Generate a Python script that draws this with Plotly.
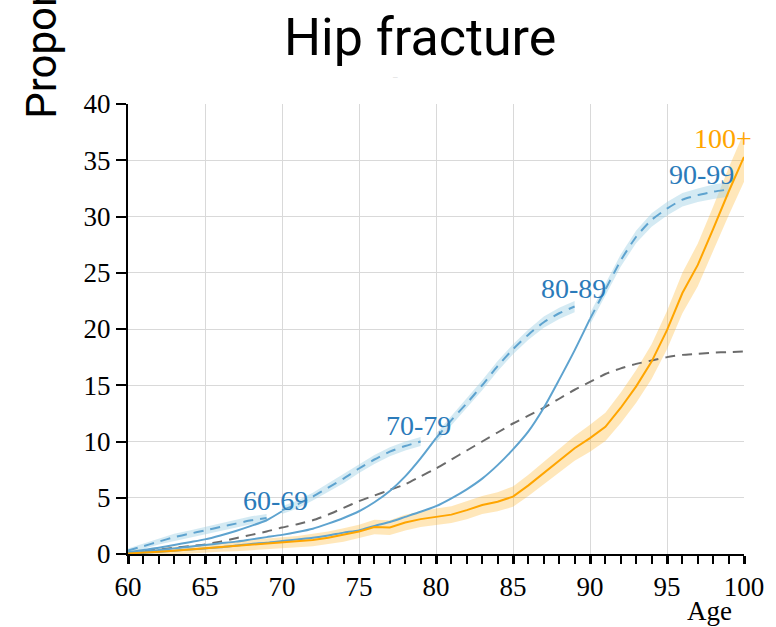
import plotly.graph_objects as go

# ---------------- data ----------------
ages_all = list(range(60, 101))

# cumulative proportion (%) with hip fracture, by age-at-death group
g70_ages = list(range(60, 71))
g70_vals = [0.15, 0.35, 0.55, 0.8, 1.05, 1.3, 1.65, 2.05, 2.5, 3.0, 3.8]

g80_ages = list(range(60, 81))
g80_vals = [0.1, 0.2, 0.35, 0.5, 0.65, 0.8, 0.95, 1.1, 1.3, 1.5, 1.7,
            1.95, 2.25, 2.7, 3.2, 3.8, 4.6, 5.6, 6.9, 8.5, 10.3]

g90_ages = list(range(60, 91))
g90_vals = [0.05, 0.1, 0.2, 0.3, 0.4, 0.5, 0.6, 0.75, 0.9, 1.0, 1.15,
            1.3, 1.45, 1.65, 1.9, 2.1, 2.5, 2.85, 3.3, 3.75, 4.25,
            4.95, 5.75, 6.7, 7.9, 9.3, 10.9, 13.0, 15.5, 18.1, 20.9]

g100_ages = ages_all
g100_vals = [0.05, 0.1, 0.2, 0.3, 0.4, 0.5, 0.6, 0.7, 0.8, 0.9, 1.0,
             1.1, 1.25, 1.45, 1.7, 2.0, 2.4, 2.35, 2.8, 3.1, 3.3,
             3.5, 3.9, 4.35, 4.65, 5.1, 6.1, 7.2, 8.3, 9.4, 10.3,
             11.3, 13.0, 14.9, 17.1, 19.9, 23.2, 25.7, 28.9, 32.2, 35.3]
g100_err = [0.3, 0.3, 0.3, 0.35, 0.35, 0.4, 0.4, 0.45, 0.45, 0.5, 0.5,
            0.5, 0.55, 0.55, 0.6, 0.6, 0.65, 0.65, 0.7, 0.7, 0.75,
            0.75, 0.8, 0.8, 0.85, 0.9, 0.95, 1.0, 1.05, 1.1, 1.2,
            1.25, 1.35, 1.45, 1.55, 1.7, 1.8, 1.9, 2.0, 2.1, 2.2]

# decade-of-death segments (dashed, with bands)
d60_ages = list(range(60, 70))
d60_vals = [0.3, 0.7, 1.1, 1.5, 1.8, 2.1, 2.4, 2.7, 3.0, 3.2]
d60_err = [0.2, 0.25, 0.25, 0.3, 0.3, 0.3, 0.3, 0.35, 0.35, 0.35]

d70_ages = list(range(70, 80))
d70_vals = [3.9, 4.4, 5.1, 5.9, 6.7, 7.6, 8.4, 9.1, 9.6, 10.0]
d70_err = [0.35, 0.35, 0.35, 0.4, 0.4, 0.4, 0.4, 0.4, 0.4, 0.4]

d80_ages = list(range(80, 90))
d80_vals = [10.3, 11.9, 13.4, 15.0, 16.7, 18.2, 19.5, 20.6, 21.4, 22.0]
d80_err = [0.4, 0.4, 0.4, 0.45, 0.45, 0.45, 0.45, 0.5, 0.5, 0.5]

d90_ages = list(range(90, 100))
d90_vals = [20.9, 23.5, 26.1, 28.2, 29.7, 30.7, 31.5, 31.9, 32.2, 32.4]
d90_err = [0.5, 0.5, 0.55, 0.55, 0.6, 0.6, 0.6, 0.6, 0.65, 0.65]

# overall population curve (grey dashed)
pop_vals = [0.1, 0.25, 0.4, 0.55, 0.7, 0.85, 1.1, 1.4, 1.7, 2.0, 2.35,
            2.65, 3.0, 3.5, 4.1, 4.7, 5.2, 5.7, 6.2, 6.9, 7.6,
            8.4, 9.2, 10.0, 10.8, 11.6, 12.3, 13.0, 13.8, 14.6, 15.3,
            16.0, 16.5, 16.9, 17.2, 17.5, 17.7, 17.8, 17.9, 17.95, 18.0]

decade_labels = ["60-69", "70-79", "80-89", "90-99"]
oldest_label = "100+"
title_text = "Hip fracture"
ytitle_text = "Proportion with hip fracture (%)"
xtitle_text = "Age"
x_ticks = [60, 65, 70, 75, 80, 85, 90, 95, 100]
y_ticks = [0, 5, 10, 15, 20, 25, 30, 35, 40]

# ---------------- styles ----------------
BLUE_LINE = "#5ea3cf"
BLUE_BAND = "rgba(160,208,228,0.45)"
BLUE_TEXT = "#2b7bba"
ORANGE = "#ffa500"
ORANGE_BAND = "rgba(255,180,40,0.32)"
GREY = "#6b6b6b"
SERIF = "Liberation Serif"

fig = go.Figure()


def band(xs, ys, errs, color):
    lo = [y - e for y, e in zip(ys, errs)]
    hi = [y + e for y, e in zip(ys, errs)]
    fig.add_trace(go.Scatter(x=xs + xs[::-1], y=hi + lo[::-1], fill="toself",
                             fillcolor=color, line=dict(width=0),
                             mode="lines", hoverinfo="skip", showlegend=False))


# bands
band(g100_ages, g100_vals, g100_err, ORANGE_BAND)
for xs, ys, es in [(d60_ages, d60_vals, d60_err), (d70_ages, d70_vals, d70_err),
                   (d80_ages, d80_vals, d80_err), (d90_ages, d90_vals, d90_err)]:
    band(xs, ys, es, BLUE_BAND)

# population dashed grey
fig.add_trace(go.Scatter(x=ages_all, y=pop_vals, mode="lines",
                         line=dict(color=GREY, width=2, dash="10px,7px", shape="spline", smoothing=0.6),
                         showlegend=False))

# solid cohort curves
for xs, ys in [(g70_ages, g70_vals), (g80_ages, g80_vals), (g90_ages, g90_vals)]:
    fig.add_trace(go.Scatter(x=xs, y=ys, mode="lines",
                             line=dict(color=BLUE_LINE, width=2, shape="spline", smoothing=0.6),
                             showlegend=False))

fig.add_trace(go.Scatter(x=g100_ages, y=g100_vals, mode="lines",
                         line=dict(color=ORANGE, width=2), showlegend=False))

# dashed decade segments
for xs, ys in [(d60_ages, d60_vals), (d70_ages, d70_vals),
               (d80_ages, d80_vals), (d90_ages, d90_vals)]:
    fig.add_trace(go.Scatter(x=xs, y=ys, mode="lines",
                             line=dict(color=BLUE_LINE, width=2, dash="10px,7px",
                                       shape="spline", smoothing=0.6),
                             showlegend=False))

# labels at segment ends
label_shifts = [(9, 0), (-2, -1), (-1, 1), (-27, -2)]
ends = [(d60_ages[-1], d60_vals[-1]), (d70_ages[-1], d70_vals[-1]),
        (d80_ages[-1], d80_vals[-1]), (d90_ages[-1], d90_vals[-1])]
for lab, (ex, ey), (dx, dy) in zip(decade_labels, ends, label_shifts):
    fig.add_annotation(x=ex, y=ey, text=lab, showarrow=False, xanchor="center",
                       yanchor="bottom", xshift=dx, yshift=dy,
                       font=dict(family=SERIF, size=28, color=BLUE_TEXT))
fig.add_annotation(x=g100_ages[-1], y=g100_vals[-1], text=oldest_label, showarrow=False,
                   xanchor="center", yanchor="bottom", xshift=-21, yshift=1,
                   font=dict(family=SERIF, size=28, color=ORANGE))

# axis titles as annotations
fig.add_annotation(xref="paper", yref="paper", x=(14 - 128) / 620, y=(554 - 121) / 450,
                   xanchor="left", yanchor="bottom", textangle=-90, text=ytitle_text,
                   showarrow=False, font=dict(family="Roboto", size=42, color="#000"))
fig.add_annotation(xref="paper", yref="paper", x=(713 - 128) / 620, y=(554 - 611) / 450,
                   xanchor="center", yanchor="middle", text=xtitle_text, showarrow=False,
                   font=dict(family=SERIF, size=27, color="#000"))
fig.add_annotation(xref="paper", yref="paper", x=(397 - 128) / 620, y=(554 - 76) / 450,
                   xanchor="center", yanchor="middle", text="‒", showarrow=False,
                   font=dict(family="Roboto", size=9, color="#cccccc"))

fig.update_layout(
    width=776, height=627,
    margin=dict(l=128, r=28, t=104, b=73),
    paper_bgcolor="white", plot_bgcolor="white",
    title=dict(text=title_text, x=(422 - 128) / 620, xref="paper", xanchor="center",
               y=1 - 37 / 627, yref="container", yanchor="middle",
               font=dict(family="Roboto", size=52, color="#000")),
    showlegend=False,
)
fig.update_xaxes(range=[60, 100], tickvals=x_ticks, ticktext=[str(t) for t in x_ticks],
                 showgrid=True, gridcolor="#d9d9d9", gridwidth=1,
                 showline=True, linecolor="#000", linewidth=2, zeroline=False,
                 ticks="outside", ticklen=8, tickwidth=2.5, tickcolor="#000",
                 minor=dict(dtick=1, ticks="outside", ticklen=8, tickwidth=1.5,
                            tickcolor="#000", showgrid=False),
                 tickfont=dict(family=SERIF, size=27, color="#000"))
fig.update_yaxes(range=[0, 40], tickvals=y_ticks, ticktext=[str(t) for t in y_ticks],
                 showgrid=True, gridcolor="#d9d9d9", gridwidth=1,
                 showline=True, linecolor="#000", linewidth=2, zeroline=False,
                 ticks="outside", ticklen=10, tickwidth=2, tickcolor="#000",
                 tickfont=dict(family=SERIF, size=27, color="#000"))

fig.write_html("out.html")
